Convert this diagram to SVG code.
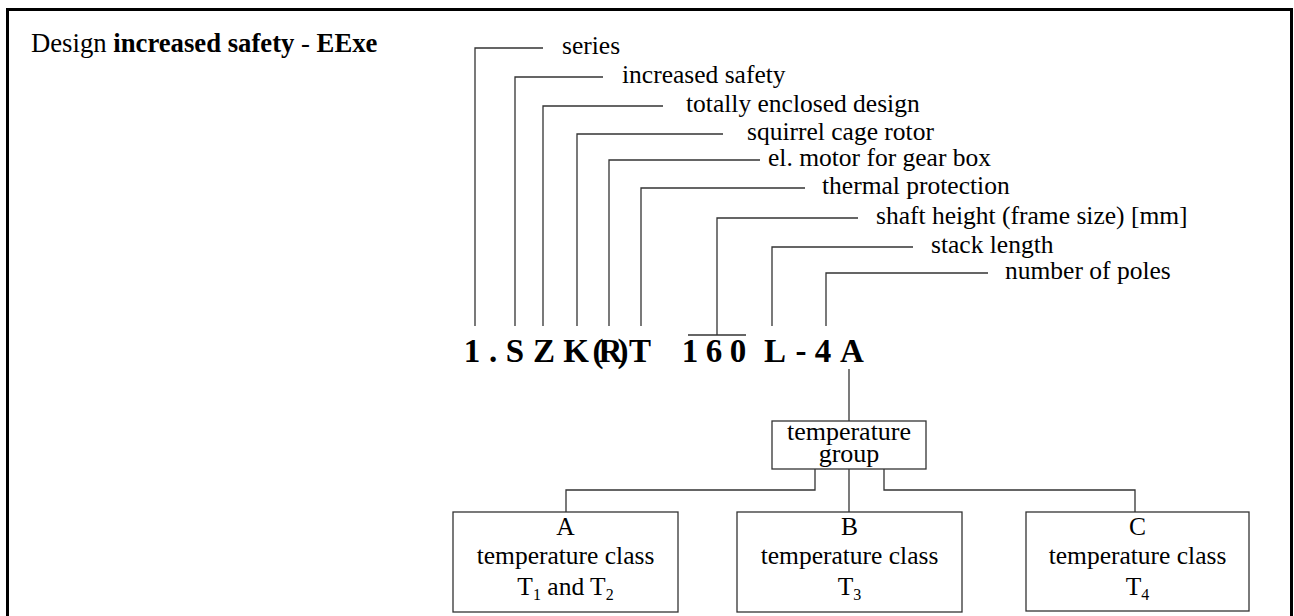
<svg xmlns="http://www.w3.org/2000/svg" width="1294" height="616" viewBox="0 0 1294 616">
<style>
.t{font-family:"Liberation Serif","Times New Roman",serif;font-size:25.5px;fill:#000}
.b{font-weight:bold}
.code{font-family:"Liberation Serif","Times New Roman",serif;font-size:33px;font-weight:bold;text-anchor:middle;fill:#000}
.ln{stroke:#333;stroke-width:1.3;fill:none}
.box{fill:#fff;stroke:#333;stroke-width:1.3}
.c{text-anchor:middle}
</style>
<rect width="1294" height="616" fill="#fff"/>
<path d="M7.5,630 V9.5 H1291.5 V630" fill="none" stroke="#000" stroke-width="3"/>
<text id="title" class="t" x="31" y="52" style="font-size:26.7px">Design <tspan class="b">increased safety</tspan> - <tspan class="b">EExe</tspan></text>
<g id="connectors" class="ln">
<path d="M475,326 V48 H543"/>
<path d="M515,326 V77 H603"/>
<path d="M543,326 V106 H663"/>
<path d="M577,326 V134 H723"/>
<path d="M609,326 V160 H760"/>
<path d="M641,326 V188 H805"/>
<path d="M717,335 V218 H858"/>
<path d="M688,335 H746"/>
<path d="M772,326 V247 H913"/>
<path d="M826,326 V273 H988"/>
<path d="M849,369 V421"/>
<path d="M815,469 V490 H566 V512"/>
<path d="M849,469 V512"/>
<path d="M884,469 V490 H1135 V512"/>
</g>
<g id="labels">
<text class="t" x="562" y="54">series</text>
<text class="t" x="622" y="83">increased safety</text>
<text class="t" x="686" y="112">totally enclosed design</text>
<text class="t" x="747" y="140">squirrel cage rotor</text>
<text class="t" x="768" y="166">el. motor for gear box</text>
<text class="t" x="822" y="194">thermal protection</text>
<text class="t" x="876" y="224">shaft height (frame size) [mm]</text>
<text class="t" x="931" y="253">stack length</text>
<text class="t" x="1005" y="279">number of poles</text>
</g>
<g id="code">
<text class="code" x="472" y="362">1</text>
<text class="code" x="493" y="362">.</text>
<text class="code" x="515" y="362">S</text>
<text class="code" x="544" y="362">Z</text>
<text class="code" x="576" y="362">K</text>
<text class="code" x="608" y="362" letter-spacing="-5">(R)</text>
<text class="code" x="640" y="362">T</text>
<text class="code" x="690" y="362">1</text>
<text class="code" x="714" y="362">6</text>
<text class="code" x="738" y="362">0</text>
<text class="code" x="775" y="362">L</text>
<text class="code" x="801" y="362">-</text>
<text class="code" x="823" y="362">4</text>
<text class="code" x="852" y="362">A</text>
</g>
<g id="temperature-group">
<rect class="box" x="772" y="421" width="154" height="48"/>
<text class="t c" x="849" y="440" style="font-size:26px">temperature<tspan x="849" dy="21.5">group</tspan></text>
</g>
<g id="class-A">
<rect class="box" x="453" y="512" width="225" height="100"/>
<text class="t c" x="565.5" y="535">A</text>
<text class="t c" x="565.5" y="564">temperature class</text>
<text class="t c" x="565.5" y="595">T<tspan font-size="16" dy="5">1</tspan><tspan dy="-5"> and T</tspan><tspan font-size="16" dy="5">2</tspan></text>
</g>
<g id="class-B">
<rect class="box" x="737" y="512" width="225" height="100"/>
<text class="t c" x="849.5" y="535">B</text>
<text class="t c" x="849.5" y="564">temperature class</text>
<text class="t c" x="849.5" y="595">T<tspan font-size="16" dy="5">3</tspan></text>
</g>
<g id="class-C">
<rect class="box" x="1026" y="512" width="223" height="99"/>
<text class="t c" x="1137.5" y="535">C</text>
<text class="t c" x="1137.5" y="564">temperature class</text>
<text class="t c" x="1137.5" y="595">T<tspan font-size="16" dy="5">4</tspan></text>
</g>
</svg>
